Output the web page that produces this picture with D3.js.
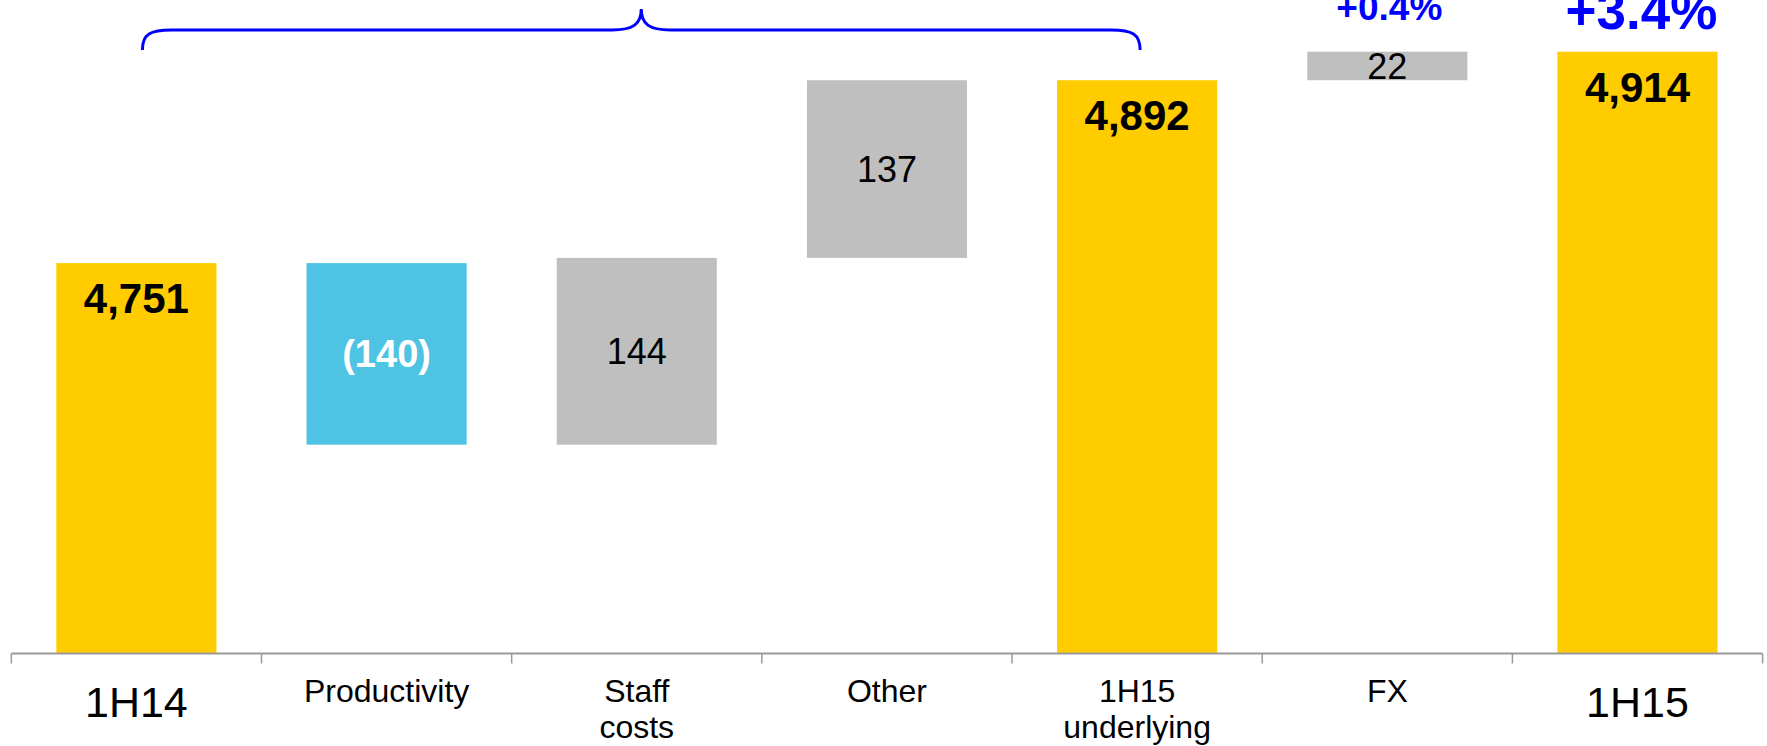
<!DOCTYPE html>
<html>
<head>
<meta charset="utf-8">
<script src="https://cdn.jsdelivr.net/npm/d3@7"></script>
<style>
  html, body { margin: 0; padding: 0; background: #ffffff; }
  svg { display: block; font-family: "Liberation Sans", Arial, sans-serif; }
</style>
</head>
<body>
<svg id="chart" width="1767" height="746"></svg>
<script>
// Cost bridge 1H14 -> 1H15
const categories = ["1H14", "Productivity", "Staff costs", "Other", "1H15 underlying", "FX", "1H15"];
const categoryLines = [["1H14"], ["Productivity"], ["Staff", "costs"], ["Other"], ["1H15", "underlying"], ["FX"], ["1H15"]];
const values = [4751, -140, 144, 137, 4892, 22, 4914];
const isTotal = [true, false, false, false, true, false, true];
const growthCategories = ["FX", "1H15"];
const growthLabels = ["+0.4%", "+3.4%"];
const yDomain = [4450, 4950];

const svg = d3.select("#chart");
const colors = { total: "#FFCC00", down: "#4FC3E3", up: "#BFBFBF", axis: "#9A9A9A", brace: "#0000FF" };

const x = d3.scaleBand()
  .domain(categories)
  .range([11.3, 1762.6])
  .paddingInner(0.36)
  .paddingOuter(0.18);

const y = d3.scaleLinear().domain(yDomain).range([653.5, 5]);

// running totals for the floating bars
let running = 0;
const bars = categories.map((c, i) => {
  let lo, hi;
  if (isTotal[i]) {
    lo = yDomain[0]; hi = values[i]; running = values[i];
  } else {
    const start = running;
    running = start + values[i];
    lo = Math.min(start, running); hi = Math.max(start, running);
  }
  return { cat: c, value: values[i], total: isTotal[i], lo, hi };
});

const fmt = d3.format(",");
const labelText = d => d.total ? fmt(d.value) : (d.value < 0 ? "(" + fmt(-d.value) + ")" : fmt(d.value));

svg.append("g").selectAll("rect")
  .data(bars)
  .join("rect")
  .attr("x", d => x(d.cat))
  .attr("width", x.bandwidth())
  .attr("y", d => y(d.hi))
  .attr("height", d => y(d.lo) - y(d.hi))
  .attr("fill", d => d.total ? colors.total : (d.value < 0 ? colors.down : colors.up));

// value labels
svg.append("g").selectAll("text")
  .data(bars)
  .join("text")
  .attr("x", d => x(d.cat) + x.bandwidth() / 2)
  .attr("y", d => d.total ? y(d.hi) + 50 : (y(d.hi) + y(d.lo)) / 2 + 13)
  .attr("text-anchor", "middle")
  .attr("font-size", d => d.total ? 42 : (d.value < 0 ? 38 : 36))
  .attr("font-weight", d => (d.total || d.value < 0) ? "bold" : "normal")
  .attr("fill", d => (!d.total && d.value < 0) ? "#ffffff" : "#000000")
  .text(labelText);

// category axis with ticks on band boundaries
const axisY = y(yDomain[0]);
const axis = svg.append("g");
axis.append("line")
  .attr("x1", x.range()[0]).attr("x2", x.range()[1])
  .attr("y1", axisY).attr("y2", axisY)
  .attr("stroke", colors.axis).attr("stroke-width", 2);
const gap = (x.step() - x.bandwidth()) / 2;
const boundaries = categories.map(c => x(c) - gap).concat([x.range()[1]]);
axis.selectAll("line.tick")
  .data(boundaries)
  .join("line")
  .attr("class", "tick")
  .attr("x1", d => d).attr("x2", d => d)
  .attr("y1", axisY).attr("y2", axisY + 10)
  .attr("stroke", colors.axis).attr("stroke-width", 1.5);

const catLabels = axis.selectAll("text.cat")
  .data(categories)
  .join("text")
  .attr("class", "cat")
  .attr("text-anchor", "middle")
  .attr("fill", "#000000");
catLabels.each(function (c, i) {
  const big = isTotal[i] && categoryLines[i].length === 1;
  const t = d3.select(this)
    .attr("font-size", big ? 43 : 32)
    .attr("y", big ? 717 : 702);
  categoryLines[i].forEach((line, j) => {
    t.append("tspan")
      .attr("x", x(c) + x.bandwidth() / 2)
      .attr("dy", j === 0 ? 0 : 36)
      .text(line);
  });
});

// growth percentages above FX and 1H15
svg.append("g").selectAll("text")
  .data(growthCategories.map((c, i) => ({ cat: c, text: growthLabels[i], big: c === "1H15" })))
  .join("text")
  .attr("x", d => x(d.cat) + x.bandwidth() / 2 + (d.big ? 4 : 2))
  .attr("y", d => d.big ? 29 : 20)
  .attr("text-anchor", "middle")
  .attr("font-weight", "bold")
  .attr("font-size", d => d.big ? 53 : 37)
  .attr("fill", colors.brace)
  .text(d => d.text);

// brace spanning 1H14 .. 1H15 underlying
const bx0 = x("1H14") + x.bandwidth() / 2 + 6;
const bx1 = x("1H15 underlying") + x.bandwidth() / 2 + 3;
const bm = (bx0 + bx1) / 2;
const yEnd = 50, yLine = 30, yTip = 9, r = 29;
const brace = d3.path();
brace.moveTo(bx0, yEnd);
brace.bezierCurveTo(bx0, yLine + 4, bx0 + 8, yLine, bx0 + r, yLine);
brace.lineTo(bm - r, yLine);
brace.bezierCurveTo(bm - 8, yLine, bm, yLine - 6, bm, yTip);
brace.bezierCurveTo(bm, yLine - 6, bm + 8, yLine, bm + r, yLine);
brace.lineTo(bx1 - r, yLine);
brace.bezierCurveTo(bx1 - 8, yLine, bx1, yLine + 4, bx1, yEnd);
svg.append("path")
  .attr("d", brace.toString())
  .attr("fill", "none")
  .attr("stroke", colors.brace)
  .attr("stroke-width", 3);
</script>
</body>
</html>
